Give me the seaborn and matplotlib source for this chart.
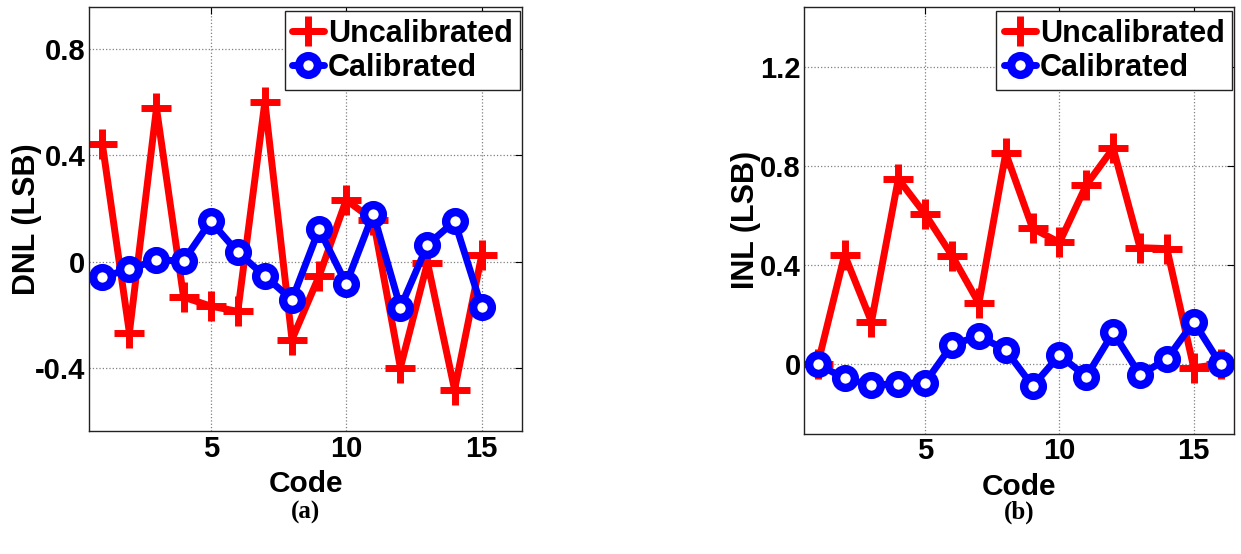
import matplotlib
matplotlib.use("Agg")
import matplotlib.pyplot as plt
from matplotlib.ticker import FixedLocator, FuncFormatter
import seaborn as sns
import pandas as pd

# DNL per output code
dnl_codes = list(range(1, 16))
dnl_uncal = [0.445, -0.268, 0.578, -0.134, -0.168, -0.188, 0.602, -0.294,
             -0.055, 0.232, 0.156, -0.400, -0.004, -0.483, 0.023]
dnl_cal = [-0.059, -0.028, 0.005, 0.003, 0.152, 0.035, -0.055, -0.144,
           0.122, -0.084, 0.181, -0.174, 0.063, 0.152, -0.172]

# INL per output code
inl_codes = list(range(1, 17))
inl_uncal = [0.0, 0.441, 0.171, 0.747, 0.605, 0.438, 0.246, 0.851,
             0.548, 0.491, 0.723, 0.871, 0.470, 0.466, -0.014, 0.0]
inl_cal = [0.0, -0.057, -0.085, -0.078, -0.074, 0.078, 0.114, 0.057,
           -0.088, 0.036, -0.050, 0.128, -0.043, 0.021, 0.171, 0.0]

series_names = ["Uncalibrated", "Calibrated"]
x_ticks = [5, 10, 15]
dnl_yticks = [-0.4, 0, 0.4, 0.8]
inl_yticks = [0, 0.4, 0.8, 1.2]
captions = ["(a)", "(b)"]

sns.set_theme(style="white")
plt.rcParams["font.family"] = ["Liberation Sans", "DejaVu Sans"]
plt.rcParams["font.weight"] = "bold"
plt.rcParams["axes.labelweight"] = "bold"
for key in ["text.color", "axes.labelcolor", "xtick.color", "ytick.color"]:
    plt.rcParams[key] = "black"

fig = plt.figure(figsize=(12.41, 5.54), dpi=100)
ax_dnl = fig.add_axes([0.0715, 0.2215, 0.3494, 0.766])
ax_inl = fig.add_axes([0.6481, 0.2172, 0.3463, 0.770])

red_style = dict(color="#FF0000", marker="+", markersize=22,
                 markeredgecolor="#FF0000", markeredgewidth=5, linewidth=5)
blue_style = dict(color="#0000FF", marker="o", markersize=13.5,
                  markerfacecolor="white", markeredgecolor="#0000FF",
                  markeredgewidth=6, linewidth=5)


def draw(ax, codes, uncal, cal, ylabel, ylim, yticks, ylabel_x):
    df = pd.DataFrame({"Code": codes, series_names[0]: uncal,
                       series_names[1]: cal})
    sns.lineplot(data=df, x="Code", y=series_names[0], ax=ax,
                 label=series_names[0], **red_style)
    sns.lineplot(data=df, x="Code", y=series_names[1], ax=ax,
                 label=series_names[1], **blue_style)
    ax.set_xlim(0.5, 16.5)
    ax.set_ylim(*ylim)
    ax.xaxis.set_major_locator(FixedLocator(x_ticks))
    ax.yaxis.set_major_locator(FixedLocator(yticks))
    ax.yaxis.set_major_formatter(FuncFormatter(lambda v, p: f"{v:g}"))
    ax.grid(True, linestyle=":", color="#808080", linewidth=0.9)
    ax.tick_params(direction="in", length=5, width=0.8, top=True, right=True,
                   labelsize=21, pad=2.5, colors="black")
    for lbl in ax.get_xticklabels() + ax.get_yticklabels():
        lbl.set_fontweight("bold")
    for sp in ax.spines.values():
        sp.set_color("#222222")
        sp.set_linewidth(1.0)
    ax.set_xlabel("Code", fontsize=21.5, fontweight="bold")
    ax.set_ylabel(ylabel, fontsize=22, fontweight="bold")
    ax.xaxis.set_label_coords(0.5, -0.092)
    ax.yaxis.set_label_coords(ylabel_x, 0.5)
    leg = ax.legend(loc="upper right", bbox_to_anchor=(0.995, 0.99),
                    borderaxespad=0, fontsize=22, frameon=True,
                    fancybox=False, edgecolor="#222222", framealpha=1,
                    handlelength=1.05, handletextpad=0.13, labelspacing=0.14,
                    borderpad=0.24)
    leg.get_frame().set_linewidth(1.0)
    for t in leg.get_texts():
        t.set_fontweight("bold")


draw(ax_dnl, dnl_codes, dnl_uncal, dnl_cal, "DNL (LSB)", (-0.64, 0.96),
     dnl_yticks, -0.108)
draw(ax_inl, inl_codes, inl_uncal, inl_cal, "INL (LSB)", (-0.28, 1.44),
     inl_yticks, -0.101)

for ax, cap in zip([ax_dnl, ax_inl], captions):
    pos = ax.get_position()
    fig.text((pos.x0 + pos.x1) / 2, 1 - 512 / 554, cap, ha="center",
             va="center", fontsize=18, fontweight="bold",
             family=["Liberation Serif", "DejaVu Serif"])

fig.savefig("out.png", dpi=100)
